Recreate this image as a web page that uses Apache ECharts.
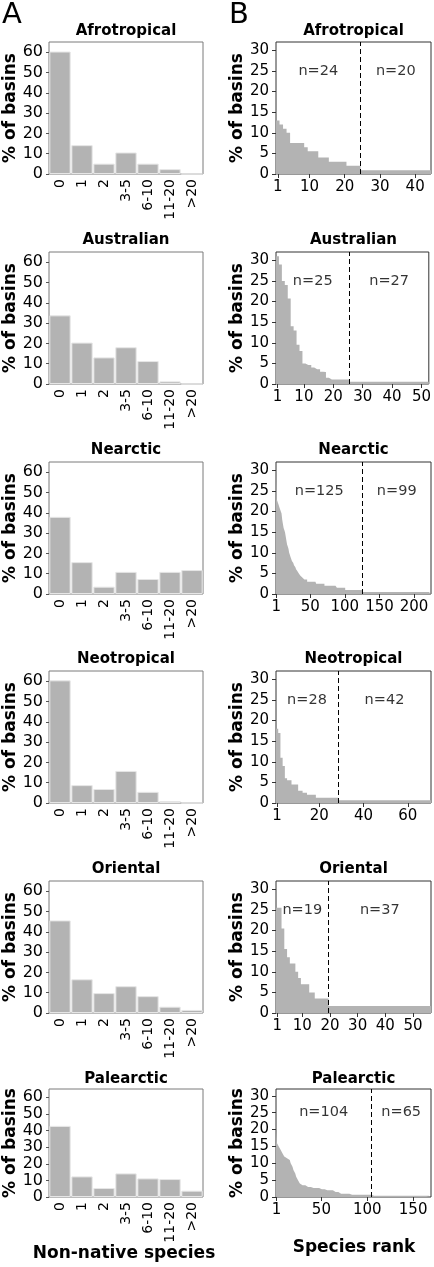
<!DOCTYPE html>
<html><head><meta charset="utf-8">
<script src="https://cdn.jsdelivr.net/npm/echarts@6/dist/echarts.min.js"></script>
<style>html,body{margin:0;padding:0;background:#fff}#main{width:434px;height:1267px}</style>
</head><body><div id="main"></div>
<script>
// ---------- DATA ----------
const regions = ['Afrotropical', 'Australian', 'Nearctic', 'Neotropical', 'Oriental', 'Palearctic'];
const nonNativeCategories = ['0', '1', '2', '3-5', '6-10', '11-20', '>20'];

// Panel A: % of basins per number of non-native species
const pctAfrotropical = [60.3, 14.2, 5.1, 10.6, 5.1, 2.4, 0];
const pctAustralian   = [33.8, 20.4, 13.1, 18.1, 11.3, 1.3, 0];
const pctNearctic     = [38.0, 15.7, 3.6, 10.9, 7.4, 10.9, 11.8];
const pctNeotropical  = [60.4, 8.8, 6.9, 15.8, 5.5, 1.0, 0];
const pctOriental     = [45.6, 16.6, 9.8, 13.2, 8.3, 3.1, 1.5];
const pctPalearctic   = [42.8, 12.4, 5.4, 14.2, 11.2, 10.8, 3.8];

// Panel B: % of basins occupied by each non-native species, by rank
const rankAfrotropicalHead = [13, 12, 11, 10, 7.5, 7.5, 7.5, 7.5, 6.5, 5.5, 5.5, 5.5, 4, 4, 4, 3, 3, 3, 3, 3, 2, 2, 2, 2];
const rankAfrotropicalTail = [0.9, 0.9, 0.9, 0.9, 0.9, 0.9, 0.9, 0.9, 0.9, 0.9, 0.9, 0.9, 0.9, 0.9, 0.9, 0.9, 0.9, 0.9, 0.9, 0.9];

const rankAustralianHead = [31, 29, 25, 24, 20.7, 14, 13, 9.5, 8, 5, 4.6, 4.6, 4, 3.6, 3.6, 3, 2.9, 1.5, 1.1, 1.1, 1.1, 1.1, 1.1, 1.1, 1.1];
const rankAustralianTail = [0.55, 0.55, 0.55, 0.55, 0.55, 0.55, 0.55, 0.55, 0.55, 0.55, 0.55, 0.55, 0.55, 0.55, 0.55, 0.55, 0.55, 0.55, 0.55, 0.55, 0.55, 0.55, 0.55, 0.55, 0.55, 0.55, 0.55];

const rankNearcticHead = [29,
  23, 22.5, 22,
  21.5, 21, 20.5, 20, 19.5,
  18, 17, 16,
  15.5, 15, 14,
  13, 12, 11.5,
  11, 10, 9.5,
  9, 8.5, 8, 8,
  7.5, 7, 7, 6.5,
  6, 6, 5.5, 5.5, 5,
  5, 4.5, 4.5, 4.5, 4,
  4, 4, 3.5, 3.5, 3.5, 3.5,
  3, 3, 3, 3, 3, 3, 3, 3, 3, 3, 3, 3, 3,
  2.5, 2.5, 2.5, 2.5, 2.5, 2.5, 2.5, 2.5, 2.5, 2.5, 2.5, 2.5,
  2, 2, 2, 2, 2, 2, 2, 2, 2, 2, 2, 2, 2, 2, 2, 2, 2, 2,
  1.5, 1.5, 1.5, 1.5, 1.5, 1.5, 1.5, 1.5, 1.5, 1.5, 1.5, 1.5,
  1, 1, 1, 1, 1, 1, 1, 1, 1, 1, 1, 1, 1, 1, 1, 1, 1, 1, 1, 1, 1, 1, 1, 1, 1];
const rankNearcticTail = [
  0.5, 0.5, 0.5, 0.5, 0.5, 0.5, 0.5, 0.5, 0.5, 0.5, 0.5, 0.5, 0.5, 0.5, 0.5, 0.5, 0.5, 0.5, 0.5, 0.5,
  0.5, 0.5, 0.5, 0.5, 0.5, 0.5, 0.5, 0.5, 0.5, 0.5, 0.5, 0.5, 0.5, 0.5, 0.5, 0.5, 0.5, 0.5, 0.5, 0.5,
  0.5, 0.5, 0.5, 0.5, 0.5, 0.5, 0.5, 0.5, 0.5, 0.5, 0.5, 0.5, 0.5, 0.5, 0.5, 0.5, 0.5, 0.5, 0.5, 0.5,
  0.5, 0.5, 0.5, 0.5, 0.5, 0.5, 0.5, 0.5, 0.5, 0.5, 0.5, 0.5, 0.5, 0.5, 0.5, 0.5, 0.5, 0.5, 0.5, 0.5,
  0.5, 0.5, 0.5, 0.5, 0.5, 0.5, 0.5, 0.5, 0.5, 0.5, 0.5, 0.5, 0.5, 0.5, 0.5, 0.5, 0.5, 0.5, 0.5];

const rankNeotropicalHead = [18, 17, 11, 9, 6, 5.5, 5.5, 4.5, 4.5, 4.5, 3, 3, 2.5, 2.5, 2, 2, 2, 2, 1.3, 1.3, 1.3, 1.3, 1.3, 1.3, 1.3, 1.3, 1.3, 1.3];
const rankNeotropicalTail = [
  0.65, 0.65, 0.65, 0.65, 0.65, 0.65, 0.65, 0.65, 0.65, 0.65, 0.65, 0.65, 0.65, 0.65,
  0.65, 0.65, 0.65, 0.65, 0.65, 0.65, 0.65, 0.65, 0.65, 0.65, 0.65, 0.65, 0.65, 0.65,
  0.65, 0.65, 0.65, 0.65, 0.65, 0.65, 0.65, 0.65, 0.65, 0.65, 0.65, 0.65, 0.65, 0.65];

const rankOrientalHead = [25.5, 25.5, 20.5, 15.5, 13.5, 12, 12, 10, 8.5, 7, 7, 7, 5, 5, 3.5, 3.5, 3.5, 3.5, 3.5];
const rankOrientalTail = [
  1.7, 1.7, 1.7, 1.7, 1.7, 1.7, 1.7, 1.7, 1.7, 1.7, 1.7, 1.7, 1.7, 1.7, 1.7, 1.7, 1.7, 1.7, 1.7,
  1.7, 1.7, 1.7, 1.7, 1.7, 1.7, 1.7, 1.7, 1.7, 1.7, 1.7, 1.7, 1.7, 1.7, 1.7, 1.7, 1.7, 1.7];

const rankPalearcticHead = [19.5,
  16, 15.5, 15,
  14.5, 14, 13.5, 13,
  12.5, 12, 12, 11.5, 11.5,
  11, 11, 10.5, 10,
  9.5, 9, 8,
  7.5, 7, 6,
  5.5, 5, 4.5, 4,
  3.5, 3.5, 3.5, 3.5, 3.5, 3.5,
  3, 3, 3, 3, 3, 3, 3,
  2.7, 2.7, 2.7, 2.7, 2.7, 2.7, 2.7,
  2.3, 2.3, 2.3, 2.3, 2.3, 2.3, 2.3, 2.3,
  2, 2, 2, 2, 2, 2, 2,
  1.5, 1.5, 1.5, 1.5, 1.5, 1.5, 1.5, 1.5,
  1, 1, 1, 1, 1, 1, 1, 1, 1, 1,
  0.7, 0.7, 0.7, 0.7, 0.7, 0.7, 0.7, 0.7, 0.7, 0.7, 0.7, 0.7, 0.7, 0.7, 0.7, 0.7, 0.7, 0.7, 0.7, 0.7, 0.7, 0.7, 0.7, 0.7];
const rankPalearcticTail = [
  0.35, 0.35, 0.35, 0.35, 0.35, 0.35, 0.35, 0.35, 0.35, 0.35, 0.35, 0.35, 0.35,
  0.35, 0.35, 0.35, 0.35, 0.35, 0.35, 0.35, 0.35, 0.35, 0.35, 0.35, 0.35, 0.35,
  0.35, 0.35, 0.35, 0.35, 0.35, 0.35, 0.35, 0.35, 0.35, 0.35, 0.35, 0.35, 0.35,
  0.35, 0.35, 0.35, 0.35, 0.35, 0.35, 0.35, 0.35, 0.35, 0.35, 0.35, 0.35, 0.35,
  0.35, 0.35, 0.35, 0.35, 0.35, 0.35, 0.35, 0.35, 0.35, 0.35, 0.35, 0.35, 0.35];

// Tick labels
const yTicksA = [0, 10, 20, 30, 40, 50, 60];
const yTicksB = [0, 5, 10, 15, 20, 25, 30];
const rankTicksAfrotropical = [1, 10, 20, 30, 40];
const rankTicksAustralian   = [1, 10, 20, 30, 40, 50];
const rankTicksNearctic     = [1, 50, 100, 150, 200];
const rankTicksNeotropical  = [1, 20, 40, 60];
const rankTicksOriental     = [1, 10, 20, 30, 40, 50];
const rankTicksPalearctic   = [1, 50, 100, 150];

// ---------- BUILD ----------
const panelA = [pctAfrotropical, pctAustralian, pctNearctic, pctNeotropical, pctOriental, pctPalearctic];
const heads = [rankAfrotropicalHead, rankAustralianHead, rankNearcticHead, rankNeotropicalHead, rankOrientalHead, rankPalearcticHead];
const tails = [rankAfrotropicalTail, rankAustralianTail, rankNearcticTail, rankNeotropicalTail, rankOrientalTail, rankPalearcticTail];
const rankTicks = [rankTicksAfrotropical, rankTicksAustralian, rankTicksNearctic, rankTicksNeotropical, rankTicksOriental, rankTicksPalearctic];

const FONT = 'DejaVu Sans';
const BAR = '#b3b3b3';
const tops = [42, 252, 462, 671, 881, 1089];
const heights = [132, 132, 132, 132, 132, 108];
const titleY = [31, 240, 450, 659, 869, 1079];
const LEFT = {left: 49, width: 154};
const RIGHT = {left: 276, width: 155};

const grids = [], xAxes = [], yAxes = [], series = [], graphics = [];
const txt = (x, y, text, size, weight, align) => ({
  type: 'text', x, y, silent: true,
  style: {text, fontSize: size, fontWeight: weight || 'normal', fontFamily: FONT, fill: '#000',
          align: align || 'center', verticalAlign: 'middle'}
});

regions.forEach((name, k) => {
  // ---- panel A ----
  let gi = grids.length;
  grids.push({left: LEFT.left, width: LEFT.width, top: tops[k], height: heights[k],
    show: true, borderColor: '#7a7a7a', borderWidth: 1, backgroundColor: 'transparent'});
  xAxes.push({gridIndex: gi, type: 'category', data: nonNativeCategories,
    axisLine: {show: false}, axisTick: {show: false}, splitLine: {show: false},
    axisLabel: {rotate: 90, margin: 5, fontSize: 14, fontFamily: FONT, color: '#000'}});
  yAxes.push({gridIndex: gi, type: 'value', min: 0, max: 65,
    axisLine: {show: false}, splitLine: {show: false},
    axisTick: {show: true, length: 3, customValues: yTicksA, lineStyle: {color: '#555'}},
    axisLabel: {customValues: yTicksA, margin: 6, fontSize: 16, fontFamily: FONT, color: '#000'},
    name: '% of basins', nameLocation: 'middle', nameGap: 30,
    nameTextStyle: {fontSize: 17, fontWeight: 'bold', fontFamily: FONT, color: '#000'}});
  series.push({type: 'bar', xAxisIndex: gi, yAxisIndex: gi, data: panelA[k], barCategoryGap: '3%',
    itemStyle: {color: BAR, borderColor: '#e6e6e6', borderWidth: 1}, silent: true});
  graphics.push(txt(LEFT.left + LEFT.width / 2, titleY[k], name, 15, 'bold'));

  // ---- panel B ----
  gi = grids.length;
  const head = heads[k], tail = tails[k];
  const values = head.concat(tail);
  const N = values.length, n = head.length;
  grids.push({left: RIGHT.left, width: RIGHT.width, top: tops[k], height: heights[k],
    show: true, borderColor: '#333', borderWidth: 1, backgroundColor: 'transparent'});
  xAxes.push({gridIndex: gi, type: 'value', min: 0.5, max: N + 0.5,
    axisLine: {show: false}, splitLine: {show: false},
    axisTick: {show: true, length: 4, customValues: rankTicks[k], lineStyle: {color: '#333'}},
    axisLabel: {customValues: rankTicks[k], margin: 6, fontSize: 15, fontFamily: FONT, color: '#000'}});
  yAxes.push({gridIndex: gi, type: 'value', min: 0, max: 32,
    axisLine: {show: false}, splitLine: {show: false},
    axisTick: {show: true, length: 4, customValues: yTicksB, lineStyle: {color: '#333'}},
    axisLabel: {customValues: yTicksB, margin: 7, fontSize: 15, fontFamily: FONT, color: '#000'},
    name: '% of basins', nameLocation: 'middle', nameGap: 29,
    nameTextStyle: {fontSize: 17, fontWeight: 'bold', fontFamily: FONT, color: '#000'}});
  // step outline: rank i occupies [i-0.5, i+0.5]
  const stepData = values.map((v, i) => [i + 0.5, v]);
  stepData.push([N + 0.5, values[N - 1]]);
  series.push({type: 'line', xAxisIndex: gi, yAxisIndex: gi, data: stepData, step: 'end',
    symbol: 'none', silent: true, lineStyle: {width: 0, opacity: 0},
    areaStyle: {color: BAR, opacity: 1},
    markLine: {symbol: 'none', silent: true, label: {show: false},
      lineStyle: {type: [5, 3], color: '#000', width: 1},
      data: [{xAxis: n + 0.5}]}});
  series.push({type: 'scatter', xAxisIndex: gi, yAxisIndex: gi, symbolSize: 0, silent: true,
    data: [[(n + 1) / 2, 25, 'n=' + n], [n + 0.5 + (N - n) / 2, 25, 'n=' + (N - n)]],
    label: {show: true, position: 'inside', formatter: p => p.value[2],
      fontSize: 14.5, fontFamily: FONT, color: '#000', textBorderWidth: 0}});
  graphics.push(txt(RIGHT.left + RIGHT.width / 2, titleY[k], name, 15, 'bold'));
});

graphics.push(txt(2, 15, 'A', 29, 'normal', 'left'));
graphics.push(txt(229, 15, 'B', 29, 'normal', 'left'));
graphics.push(txt(124, 1254, 'Non-native species', 17, 'bold'));
graphics.push(txt(354, 1248, 'Species rank', 17, 'bold'));

const chart = echarts.init(document.getElementById('main'), null, {renderer: 'canvas'});
chart.setOption({
  animation: false,
  backgroundColor: '#fff',
  grid: grids, xAxis: xAxes, yAxis: yAxes, series: series,
  graphic: graphics
});
</script></body></html>
